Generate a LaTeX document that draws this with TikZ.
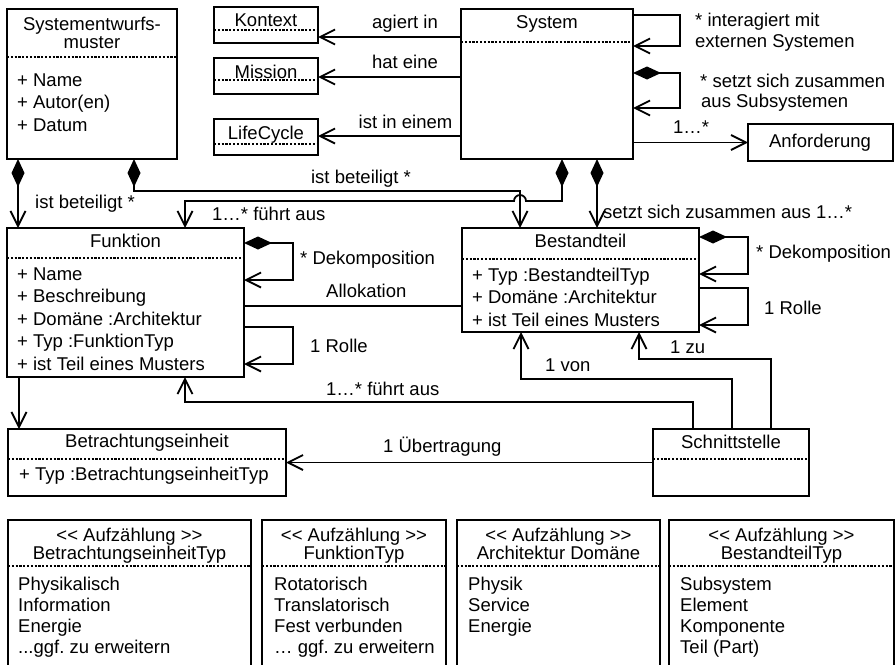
\documentclass[tikz,border=0pt]{standalone}
\usepackage{fontspec}
\setmainfont{Liberation Sans}
\usetikzlibrary{arrows.meta,calc}
\frenchspacing
\begin{document}
\begin{tikzpicture}[x=1pt,y=-1pt,
  box/.style={draw, line width=1.9pt, anchor=north west, inner sep=0pt, outer sep=0pt},
  txt/.style={inner sep=0pt, font=\fontsize{18.5}{22}\selectfont},
  dotsep/.style={line width=1.4pt, dash pattern=on 2.2pt off 1.6pt},
  conn/.style={line width=1.8pt},
  vee/.style={conn, -{Straight Barb[length=15pt,width=15pt]}},
  diavee/.style={conn, {Diamond[length=28pt,width=13pt]}-{Straight Barb[length=15pt,width=15pt]}},
]
\clip (0,0) rectangle (896,664);
\fill[white] (0,0) rectangle (896,664);

% ---------- classes ----------
\node[box, minimum width=170pt, minimum height=150pt] (sem) at (7,9) {};
\node[box, minimum width=104pt, minimum height=36pt] (kon) at (214,7) {};
\node[box, minimum width=104pt, minimum height=36pt] (mis) at (214,58) {};
\node[box, minimum width=104pt, minimum height=36pt] (lc) at (214,119) {};
\node[box, minimum width=172pt, minimum height=150pt] (sys) at (461,9) {};
\node[box, minimum width=145pt, minimum height=37pt] (anf) at (748,124) {};
\node[box, minimum width=237pt, minimum height=149pt] (fun) at (7,228) {};
\node[box, minimum width=237pt, minimum height=104pt] (bes) at (462,228) {};
\node[box, minimum width=278pt, minimum height=67pt] (bet) at (8,429) {};
\node[box, minimum width=156pt, minimum height=67pt] (sch) at (653,429) {};
\node[box, minimum width=243pt, minimum height=200pt] (e1) at (8,520) {};
\node[box, minimum width=184pt, minimum height=200pt] (e2) at (262,520) {};
\node[box, minimum width=203pt, minimum height=200pt] (e3) at (457,520) {};
\node[box, minimum width=225pt, minimum height=200pt] (e4) at (669,520) {};

% compartment separators
\foreach \b/\d in {sem/48, kon/23, mis/22, lc/25, sys/33, fun/30, bes/31, bet/30, sch/30, e1/46, e2/46, e3/46, e4/46}
  \draw[dotsep] ([yshift=-\d pt]\b.north west) -- ([yshift=-\d pt]\b.north east);

% class names
\node[txt, anchor=base] (semT1) at (92,30) {Systementwurfs-};
\node[txt, anchor=base] (semT2) at (92,48) {muster};
\node[txt, anchor=base] (konT) at (266,26.5) {Kontext};
\node[txt, anchor=base] (misT) at (266,78) {Mission};
\node[txt, anchor=base] (lcT) at (266,139) {LifeCycle};
\node[txt, anchor=base] (sysT) at (547,28) {System};
\node[txt, anchor=base] (anfT) at (820,147) {Anforderung};
\node[txt, anchor=base] (funT) at (125.5,247) {Funktion};
\node[txt, anchor=base] (besT) at (580.5,247) {Bestandteil};
\node[txt, anchor=base] (betT) at (147,447) {Betrachtungseinheit};
\node[txt, anchor=base] (schT) at (731,448) {Schnittstelle};

% attributes
\foreach \t [count=\i from 0] in {+ Name, + Autor(en), + Datum}
  \node[txt, anchor=base west] (semA\i) at (17,86+22.5*\i) {\t};
\foreach \t [count=\i from 0] in {+ Name, + Beschreibung, + Domäne :Architektur, + Typ :FunktionTyp, + ist Teil eines Musters}
  \node[txt, anchor=base west] (funA\i) at (17,280+22.6*\i) {\t};
\foreach \t [count=\i from 0] in {+ Typ :BestandteilTyp, + Domäne :Architektur, + ist Teil eines Musters}
  \node[txt, anchor=base west] (besA\i) at (472,281+22.5*\i) {\t};
\node[txt, anchor=base west] (betA) at (19,480) {+ Typ :BetrachtungseinheitTyp};

% enumerations
\foreach \b/\c/\n in {e1/129.5/BetrachtungseinheitTyp, e2/354/FunktionTyp, e3/558.5/Architektur Domäne, e4/781.5/BestandteilTyp}{
  \node[txt, anchor=base] (\b S) at (\c,541.5) {<{}< Aufzählung >{}>};
  \node[txt, anchor=base] (\b N) at (\c,559) {\n};
}
\node[txt, anchor=base west] (e1L0) at (18,590) {Physikalisch};
\node[txt, anchor=base west] (e1L1) at (18,611.3) {Information};
\node[txt, anchor=base west] (e1L2) at (18,632.6) {Energie};
\node[txt, anchor=base west] (e1L3) at (18,653.9) {.{}.{}.ggf. zu erweitern};
\node[txt, anchor=base west] (e2L0) at (274,590) {Rotatorisch};
\node[txt, anchor=base west] (e2L1) at (274,611.3) {Translatorisch};
\node[txt, anchor=base west] (e2L2) at (274,632.6) {Fest verbunden};
\node[txt, anchor=base west] (e2L3) at (274,653.9) {… ggf. zu erweitern};
\node[txt, anchor=base west] (e3L0) at (468,590) {Physik};
\node[txt, anchor=base west] (e3L1) at (468,611.3) {Service};
\node[txt, anchor=base west] (e3L2) at (468,632.6) {Energie};
\node[txt, anchor=base west] (e4L0) at (680,590) {Subsystem};
\node[txt, anchor=base west] (e4L1) at (680,611.3) {Element};
\node[txt, anchor=base west] (e4L2) at (680,632.6) {Komponente};
\node[txt, anchor=base west] (e4L3) at (680,653.9) {Teil (Part)};

% ---------- associations ----------
\draw[vee] ([yshift=-28pt]sys.north west) coordinate (a1) -- (a1 -| kon.east);
\draw[vee] ([yshift=-68pt]sys.north west) coordinate (a2) -- (a2 -| mis.east);
\draw[vee] ([yshift=-127pt]sys.north west) coordinate (a3) -- (a3 -| lc.east);
\draw[vee] ([yshift=-6pt]sys.north east) -- ++(47,0) |- ([yshift=-37pt]sys.north east);
\draw[diavee] ([yshift=-64pt]sys.north east) -- ++(47,0) |- ([yshift=-99pt]sys.north east);
\draw[vee] (sys.east |- anf.west) -- (anf.west);

\coordinate (hop) at (520,201);
\draw[diavee] ([xshift=11pt]sem.south west) -- ([xshift=11pt]fun.north west);
\draw[diavee] ([xshift=127pt]sem.south west) -- ++(0,32) -| ([xshift=58pt]bes.north west);
\draw[diavee] ([xshift=101pt]sys.south west) |- ([xshift=6pt]hop)
  arc[start angle=0, end angle=180, radius=6pt] -| ([xshift=178pt]fun.north west);
\draw[diavee] ([xshift=136pt]sys.south west) -- ([xshift=135pt]bes.north west);

\draw[diavee] ([yshift=-15pt]fun.north east) -- ++(49,0) |- ([yshift=-52pt]fun.north east);
\draw[vee] ([yshift=-99pt]fun.north east) -- ++(49,0) |- ([yshift=-136pt]fun.north east);
\draw[conn] ([yshift=-78pt]fun.north east) -- ([yshift=-78pt]bes.north west);
\draw[diavee] ([yshift=-9pt]bes.north east) -- ++(49,0) |- ([yshift=-46pt]bes.north east);
\draw[vee] ([yshift=-60pt]bes.north east) -- ++(49,0) |- ([yshift=-97pt]bes.north east);

\draw[vee] ([xshift=12pt]fun.south west) -- ([xshift=11pt]bet.north west);
\draw[vee] ([xshift=40pt]sch.north west) -- ++(0,-27) -| ([xshift=178pt]fun.south west);
\draw[vee] ([xshift=79pt]sch.north west) -- ++(0,-50) -| ([xshift=59pt]bes.south west);
\draw[vee] ([xshift=118pt]sch.north west) -- ++(0,-70) -| ([xshift=177pt]bes.south west);
\draw[vee] (sch.west) -- (bet.east);

% ---------- association labels ----------
\node[txt, anchor=base] (l1) at (405,28) {agiert in};
\node[txt, anchor=base] (l2) at (405,68) {hat eine};
\node[txt, anchor=base] (l3) at (405.5,128) {ist in einem};
\node[txt, anchor=base west] (l4a) at (695,26) {* interagiert mit};
\node[txt, anchor=base west] (l4b) at (695,47) {externen Systemen};
\node[txt, anchor=base west] (l5a) at (700,87) {* setzt sich zusammen};
\node[txt, anchor=base west] (l5b) at (701,107) {aus Subsystemen};
\node[txt, anchor=base west] (l6) at (673,133) {1…*};
\node[txt, anchor=base] (l7) at (361,183) {ist beteiligt *};
\node[txt, anchor=base west] (l8) at (35,208) {ist beteiligt *};
\node[txt, anchor=base west] (l9) at (212,220) {1…* führt aus};
\node[txt, anchor=base west] (l10) at (603,218) {setzt sich zusammen aus 1…*};
\node[txt, anchor=base west] (l11) at (300,264) {* Dekomposition};
\node[txt, anchor=base west] (l12) at (326,297) {Allokation};
\node[txt, anchor=base west] (l13) at (310,352) {1 Rolle};
\node[txt, anchor=base west] (l14) at (326,395) {1…* führt aus};
\node[txt, anchor=base west] (l15) at (383,452) {1 Übertragung};
\node[txt, anchor=base west] (l16) at (756,258) {* Dekomposition};
\node[txt, anchor=base west] (l17) at (764,314) {1 Rolle};
\node[txt, anchor=base west] (l18) at (670,353) {1 zu};
\node[txt, anchor=base west] (l19) at (545,371) {1 von};
\end{tikzpicture}
\end{document}
